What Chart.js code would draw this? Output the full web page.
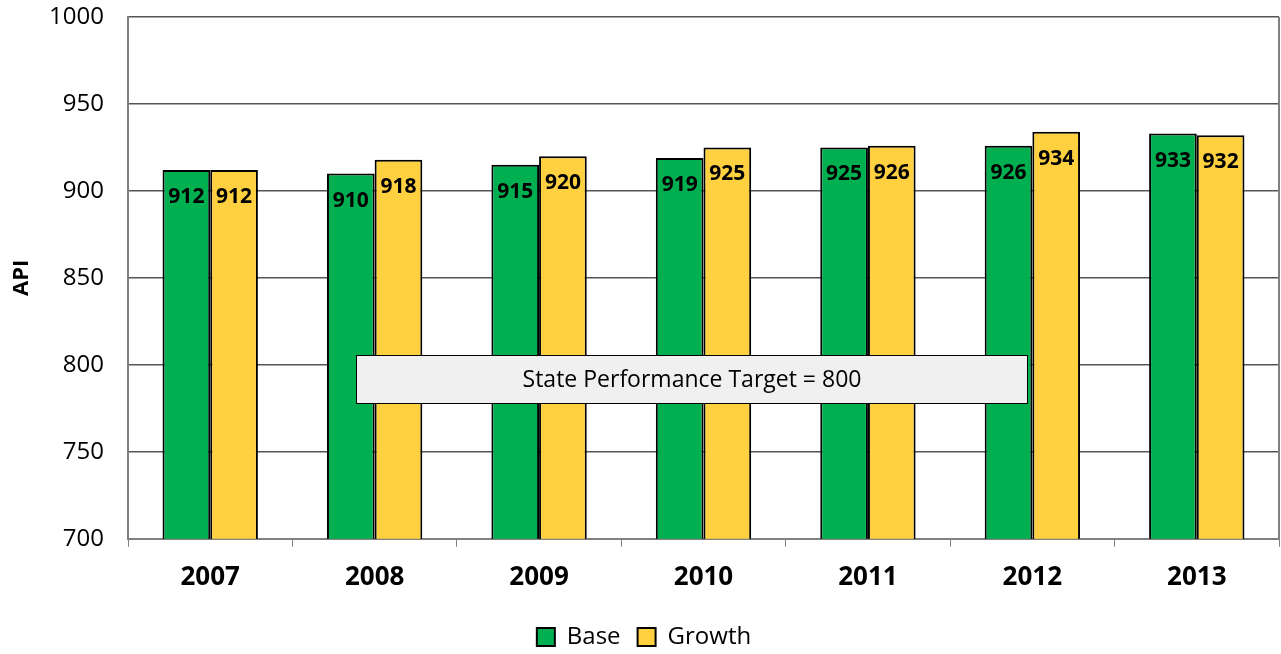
<!DOCTYPE html>
<html>
<head>
<meta charset="utf-8">
<script src="https://cdn.jsdelivr.net/npm/chart.js@4"></script>
<style>
  html, body { margin: 0; padding: 0; background: #fff; }
  #wrap { width: 1281px; height: 654px; }
</style>
</head>
<body>
<div id="wrap"><canvas id="c" width="1281" height="654"></canvas></div>
<script>
// data
const years = ['2007', '2008', '2009', '2010', '2011', '2012', '2013'];
const baseApi = [912, 910, 915, 919, 925, 926, 933];
const growthApi = [912, 918, 920, 925, 926, 934, 932];
const yTicks = [700, 750, 800, 850, 900, 950, 1000];
const targetText = 'State Performance Target = 800';

const FONT = '"Open Sans", "Noto Sans", sans-serif';

// value labels drawn inside the top of each bar
const barLabels = {
    id: 'barLabels',
    afterDatasetsDraw(chart) {
        const ctx = chart.ctx;
        ctx.save();
        ctx.font = 'bold 21px ' + FONT;
        ctx.fillStyle = '#000';
        ctx.textAlign = 'center';
        ctx.textBaseline = 'middle';
        chart.data.datasets.forEach((ds, i) => {
            chart.getDatasetMeta(i).data.forEach((bar, j) => {
                ctx.fillText(String(ds.data[j]), bar.x, bar.y + 27);
            });
        });
        ctx.restore();
    }
};

// plot frame on the right + target text box
const extras = {
    id: 'extras',
    afterDraw(chart) {
        const ctx = chart.ctx;
        const a = chart.chartArea;
        const y = chart.scales.y;
        ctx.save();
        ctx.strokeStyle = '#808080';
        ctx.lineWidth = 2;
        ctx.beginPath();
        ctx.moveTo(a.right, a.top);
        ctx.lineTo(a.right, a.bottom);
        ctx.stroke();

        const w = a.right - a.left;
        const x0 = Math.round(a.left + w * 0.198) + 0.5;
        const x1 = Math.round(a.left + w * 0.781) + 0.5;
        const y0 = Math.round(y.getPixelForValue(805.5)) + 0.5;
        const y1 = Math.round(y.getPixelForValue(778)) + 0.5;
        ctx.fillStyle = '#F0F0F0';
        ctx.fillRect(x0, y0, x1 - x0, y1 - y0);
        ctx.strokeStyle = '#000';
        ctx.lineWidth = 1;
        ctx.strokeRect(x0, y0, x1 - x0, y1 - y0);
        ctx.fillStyle = '#000';
        ctx.font = '23px ' + FONT;
        ctx.textAlign = 'center';
        ctx.textBaseline = 'middle';
        ctx.fillText(targetText, (x0 + x1) / 2, (y0 + y1) / 2 + 1);
        ctx.restore();
    }
};

new Chart(document.getElementById('c'), {
    type: 'bar',
    data: {
        labels: years,
        datasets: [{
            label: 'Base',
            data: baseApi,
            backgroundColor: '#00B050',
            borderColor: '#000',
            borderWidth: 2,
            borderSkipped: false,
            barPercentage: 1.0,
            categoryPercentage: 0.58
        }, {
            label: 'Growth',
            data: growthApi,
            backgroundColor: '#FFD03F',
            borderColor: '#000',
            borderWidth: 2,
            borderSkipped: false,
            barPercentage: 1.0,
            categoryPercentage: 0.58
        }]
    },
    options: {
        responsive: false,
        animation: false,
        layout: { padding: { top: 0, right: 2, left: 9, bottom: -5 } },
        plugins: {
            tooltip: { enabled: false },
            legend: {
                position: 'bottom',
                labels: {
                    font: { family: FONT, size: 24 },
                    color: '#000',
                    boxWidth: 18,
                    boxHeight: 18,
                    padding: 17,
                    generateLabels(chart) {
                        return chart.data.datasets.map((ds, i) => ({
                            text: ds.label,
                            fillStyle: ds.backgroundColor,
                            strokeStyle: '#000',
                            lineWidth: 2,
                            datasetIndex: i
                        }));
                    }
                }
            }
        },
        scales: {
            x: {
                grid: {
                    offset: true,
                    drawOnChartArea: false,
                    drawTicks: true,
                    tickLength: 8,
                    color: '#808080'
                },
                border: { color: '#808080', width: 2 },
                ticks: {
                    color: '#000',
                    font: { family: FONT, size: 26, weight: 'bold' },
                    padding: 15
                }
            },
            y: {
                min: 700,
                max: 1000,
                afterBuildTicks(scale) {
                    scale.ticks = yTicks.map(v => ({ value: v }));
                },
                afterFit(scale) {
                    scale.width = 119;
                    scale.paddingTop = 17;
                },
                grid: { color: '#555', lineWidth: 1.5, drawTicks: false },
                border: { color: '#808080', width: 2 },
                ticks: {
                    color: '#000',
                    font: { family: FONT, size: 24 },
                    padding: 24,
                    callback: v => String(v)
                },
                title: {
                    display: true,
                    text: 'API',
                    color: '#000',
                    font: { family: FONT, size: 22, weight: 'bold' },
                    padding: { top: 0, bottom: 10 }
                }
            }
        }
    },
    plugins: [barLabels, extras]
});
</script>
</body>
</html>
